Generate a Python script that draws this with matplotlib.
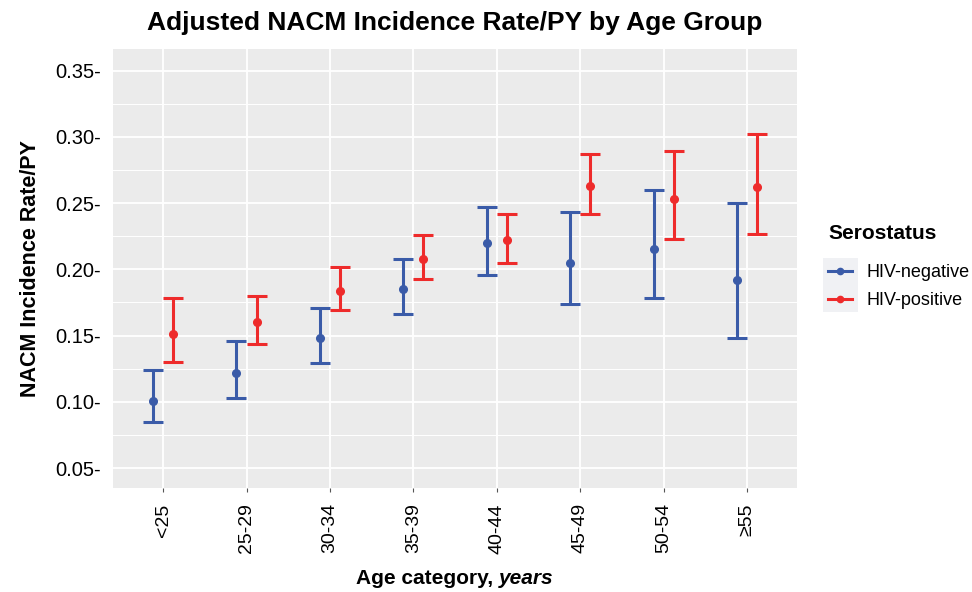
import numpy as np
import matplotlib
matplotlib.use("Agg")
import matplotlib.pyplot as plt
from matplotlib.ticker import MultipleLocator
from matplotlib.lines import Line2D
from matplotlib.patches import Rectangle
from matplotlib.offsetbox import TextArea, HPacker, AnchoredOffsetbox
from matplotlib.transforms import blended_transform_factory

plt.rcParams['font.family'] = ['Liberation Sans', 'DejaVu Sans']

# datos
grupos_edad = ['<25', '25-29', '30-34', '35-39', '40-44', '45-49', '50-54', '≥55']

neg_tasa = [0.101, 0.122, 0.148, 0.185, 0.220, 0.205, 0.215, 0.192]
neg_inf = [0.085, 0.103, 0.129, 0.166, 0.196, 0.174, 0.178, 0.148]
neg_sup = [0.124, 0.146, 0.171, 0.208, 0.247, 0.243, 0.260, 0.250]

pos_tasa = [0.151, 0.160, 0.184, 0.208, 0.222, 0.263, 0.253, 0.262]
pos_inf = [0.130, 0.144, 0.169, 0.193, 0.205, 0.242, 0.223, 0.227]
pos_sup = [0.178, 0.180, 0.202, 0.226, 0.242, 0.287, 0.289, 0.302]

series = ['HIV-negative', 'HIV-positive']
azul = '#3A5BA8'
rojo = '#EE2B2B'


def graficar_serie(ax, x, tasa, inf, sup, color, etiqueta):
    tasa = np.array(tasa)
    err = [tasa - np.array(inf), np.array(sup) - tasa]
    ax.errorbar(x, tasa, yerr=err, fmt='o', color=color, ecolor=color,
                elinewidth=2.2, capsize=7.5, capthick=2.2, markersize=5.5,
                label=etiqueta, zorder=3)


fig = plt.figure(figsize=(9.72, 5.92), dpi=100)
ax = fig.add_axes([0.1163, 0.1757, 0.7037, 0.741])
ax.set_facecolor('#EBEBEB')

x = np.arange(1, len(grupos_edad) + 1)
graficar_serie(ax, x - 0.12, neg_tasa, neg_inf, neg_sup, azul, series[0])
graficar_serie(ax, x + 0.12, pos_tasa, pos_inf, pos_sup, rojo, series[1])

ax.set_xlim(0.4, len(grupos_edad) + 0.6)
ax.set_ylim(0.035, 0.366)

ax.set_xticks(x)
ax.set_xticklabels(grupos_edad, rotation=90, fontsize=14)
yt = [0.05, 0.10, 0.15, 0.20, 0.25, 0.30, 0.35]
ax.set_yticks(yt)
ax.set_yticklabels([f'{v:.2f}-' for v in yt], fontsize=14.5)
ax.yaxis.set_minor_locator(MultipleLocator(0.025))

ax.tick_params(axis='y', which='both', length=0, pad=9)
ax.tick_params(axis='x', length=3, color='#555555', pad=8)

ax.grid(True, which='major', color='white', linewidth=1.3)
ax.grid(True, which='minor', axis='y', color='white', linewidth=0.7)
ax.set_axisbelow(True)
for s in ax.spines.values():
    s.set_visible(False)

ax.set_title('Adjusted NACM Incidence Rate/PY by Age Group', fontsize=19,
             fontweight='bold', pad=14)
ax.set_ylabel('NACM Incidence Rate/PY', fontsize=15.5, fontweight='bold',
              labelpad=10)

# etiqueta x con parte en cursiva
t1 = TextArea('Age category, ', textprops=dict(fontsize=15, fontweight='bold'))
t2 = TextArea('years', textprops=dict(fontsize=15, fontweight='bold', style='italic'))
caja = HPacker(children=[t1, t2], align='baseline', pad=0, sep=0)
trans = blended_transform_factory(ax.transAxes, fig.transFigure)
etiqueta_x = AnchoredOffsetbox(loc='center', child=caja, frameon=False,
                               bbox_to_anchor=(0.5, 0.023),
                               bbox_transform=trans, pad=0, borderpad=0)
fig.add_artist(etiqueta_x)

# leyenda
manijas = [Line2D([], [], color=c, lw=2.2, marker='o', markersize=4.5)
           for c in (azul, rojo)]
leg = fig.legend(manijas, series, title='Serostatus', loc='upper left',
                 bbox_to_anchor=(0.852, 0.621), frameon=False, fontsize=13,
                 title_fontproperties={'weight': 'bold', 'size': 15},
                 handlelength=1.3, handletextpad=0.8, labelspacing=0.62,
                 borderpad=0, borderaxespad=0)
leg._legend_box.align = 'left'
leg._legend_box.sep = 15

fig.canvas.draw()
cajas = [h.get_window_extent(fig.canvas.get_renderer()) for h in leg.legend_handles]
x0 = min(b.x0 for b in cajas) - 2
x1 = max(b.x1 for b in cajas) + 3
y0 = min(b.y0 for b in cajas) - 10
y1 = max(b.y1 for b in cajas) + 10
fig.add_artist(Rectangle((x0, y0), x1 - x0, y1 - y0, transform=None,
                         facecolor='#F0F1F4', edgecolor='none', zorder=0))

fig.savefig('out.png', dpi=100)
